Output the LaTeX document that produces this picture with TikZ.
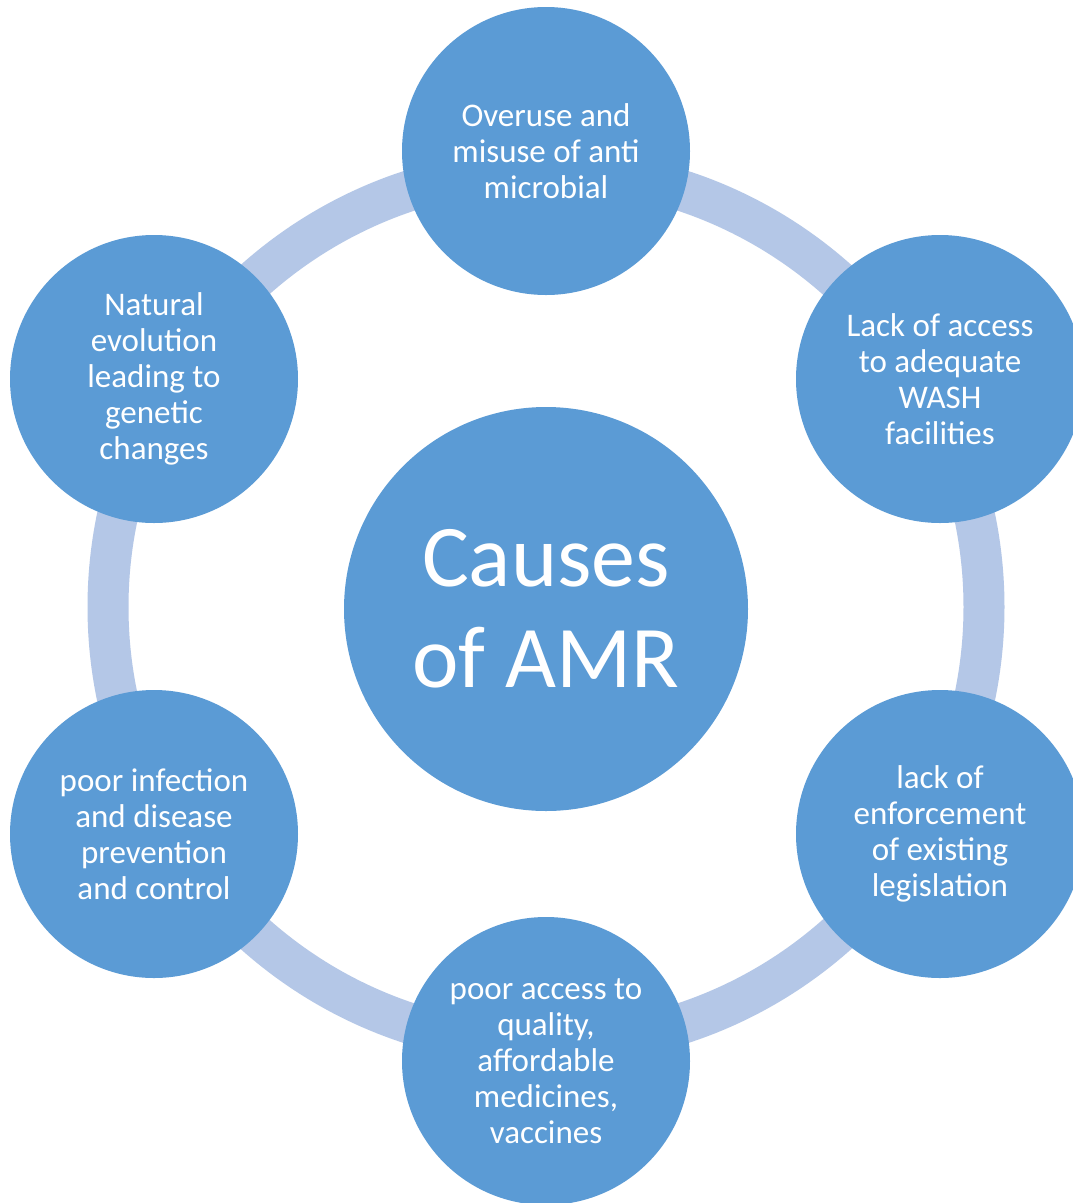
\documentclass[tikz,border=0pt]{standalone}
\usepackage{fontspec}
\setmainfont{Carlito}
\definecolor{circblue}{HTML}{5B9BD5}
\definecolor{ringblue}{HTML}{B4C7E7}
\begin{document}
\begin{tikzpicture}[x=1pt,y=-1pt,
  cause/.style={circle,fill=circblue,draw=none,minimum size=288pt,inner sep=0pt,
    text=white,align=center,font=\fontsize{33}{36}\selectfont},
  hub/.style={circle,fill=circblue,draw=none,minimum size=404pt,inner sep=0pt,
    text=white,align=center,font=\fontsize{88}{101}\selectfont},
  ring/.style={draw=ringblue,line width=41pt}]
\useasboundingbox (0,0) rectangle (1073,1203);
\clip (0,0) rectangle (1073,1203);
\fill[white] (0,0) rectangle (1073,1203);
\coordinate (mid) at (546,607);
\draw[ring] (mid) circle (438pt);
\node[hub] (C) at (546,609) {Causes\\of AMR};
\node[cause] (top) at (546,151) {Overuse and\\misuse of anti\\microbial};
\node[cause] (tr) at (940,379) {Lack of access\\to adequate\\WASH\\facilities};
\node[cause] (br) at (940,834) {lack of\\enforcement\\of existing\\legislation};
\node[cause] (bot) at (546,1061) {poor access to\\quality,\\affordable\\medicines,\\vaccines};
\node[cause] (bl) at (154,834) {poor infection\\and disease\\prevention\\and control};
\node[cause] (tl) at (154,379) {Natural\\evolution\\leading to\\genetic\\changes};
\end{tikzpicture}
\end{document}
